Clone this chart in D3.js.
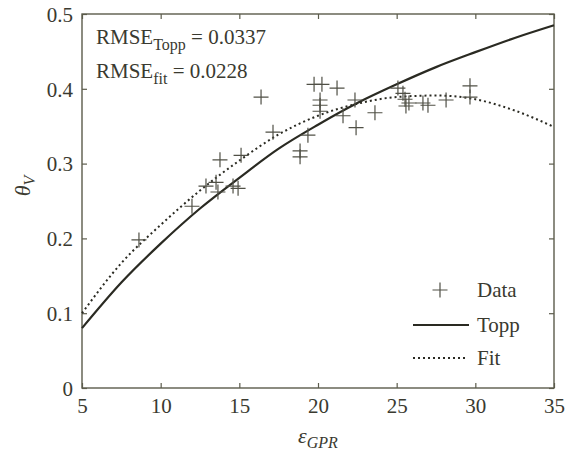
<!DOCTYPE html>
<html>
<head>
<meta charset="utf-8">
<script src="https://cdn.jsdelivr.net/npm/d3@7"></script>
<style>
  html, body { margin: 0; padding: 0; background: #fff; }
  svg { display: block; }
  text { font-family: "Liberation Serif", "DejaVu Serif", serif; fill: #3a3a30; }
</style>
</head>
<body>
<svg id="chart" width="566" height="451"></svg>
<script>
// Measured points: permittivity from GPR vs volumetric water content
const dataEps = [8.62, 11.99, 12.88, 13.52, 13.64, 13.77, 14.60, 14.92, 15.11, 16.38,
                 17.14, 18.86, 18.86, 19.36, 19.75, 20.25, 21.21, 20.13, 20.13, 20.13,
                 21.59, 22.35, 22.42, 23.62, 25.08, 25.40, 25.53, 25.78, 25.59, 26.67,
                 26.99, 28.14, 29.66, 29.66];
const dataTheta = [0.198, 0.243, 0.270, 0.275, 0.262, 0.305, 0.270, 0.267, 0.311, 0.389,
                   0.342, 0.317, 0.309, 0.338, 0.406, 0.406, 0.401, 0.385, 0.378, 0.370,
                   0.364, 0.385, 0.348, 0.368, 0.401, 0.394, 0.386, 0.381, 0.377, 0.381,
                   0.378, 0.385, 0.404, 0.389];

// Curves sampled along epsilon
const curveEps   = [5, 7.5, 10, 12.5, 15, 17.5, 20, 22.5, 25, 27.5, 30, 32.5, 35];
const toppTheta  = [0.080, 0.141, 0.193, 0.240, 0.281, 0.320, 0.352, 0.381, 0.406, 0.429, 0.449, 0.468, 0.485];
const fitTheta   = [0.100, 0.167, 0.218, 0.264, 0.304, 0.339, 0.364, 0.380, 0.389, 0.391, 0.386, 0.371, 0.349];

// Axis ticks
const xTicks = [5, 10, 15, 20, 25, 30, 35];
const yTicks = [0, 0.1, 0.2, 0.3, 0.4, 0.5];
const yTickLabels = ["0", "0.1", "0.2", "0.3", "0.4", "0.5"];

// RMSE annotations
const rmseNames  = ["Topp", "fit"];
const rmseValues = ["0.0337", "0.0228"];

// Legend entries
const legendLabels = ["Data", "Topp", "Fit"];

const frameColor = "#5c5c4c";
const lineColor = "#2a2a22";
const crossColor = "#505046";
const fontSize = "21px";

const svg = d3.select("#chart");
const m = { left: 82, top: 14 };
const W = 472, H = 374;

const x = d3.scaleLinear().domain([5, 35]).range([0, W]);
const y = d3.scaleLinear().domain([0, 0.5]).range([H, 0]);

const g = svg.append("g").attr("transform", `translate(${m.left},${m.top})`);

// Inward ticks on all four sides
function styleAxis(sel) {
  sel.select(".domain").remove();
  sel.selectAll(".tick line").attr("stroke", frameColor).attr("stroke-width", 1.2);
}

const xAxisB = d3.axisBottom(x).tickValues(xTicks).tickSizeInner(-5).tickSizeOuter(0).tickFormat(d3.format("d"));
const gxb = g.append("g").attr("transform", `translate(0,${H})`).call(xAxisB);
styleAxis(gxb);
gxb.selectAll(".tick text")
  .attr("y", 25).attr("dy", 0)
  .style("font-size", fontSize).style("font-family", "Liberation Serif, serif")
  .attr("fill", "#3a3a30");

const gxt = g.append("g").call(d3.axisTop(x).tickValues(xTicks).tickSizeInner(-5).tickSizeOuter(0).tickFormat(""));
styleAxis(gxt);

const yAxisL = d3.axisLeft(y).tickValues(yTicks).tickSizeInner(-5).tickSizeOuter(0)
  .tickFormat((d, i) => yTickLabels[i]);
const gyl = g.append("g").call(yAxisL);
styleAxis(gyl);
gyl.selectAll(".tick text")
  .attr("x", -9).attr("dy", "0.35em")
  .style("font-size", fontSize).style("font-family", "Liberation Serif, serif")
  .attr("fill", "#3a3a30");

const gyr = g.append("g").attr("transform", `translate(${W},0)`)
  .call(d3.axisRight(y).tickValues(yTicks).tickSizeInner(-5).tickSizeOuter(0).tickFormat(""));
styleAxis(gyr);

// Frame
g.append("rect").attr("x", 0).attr("y", 0).attr("width", W).attr("height", H)
  .attr("fill", "none").attr("stroke", frameColor).attr("stroke-width", 1.4);

// Curves
const line = d3.line().x(d => x(d[0])).y(d => y(d[1])).curve(d3.curveMonotoneX);

g.append("path")
  .datum(curveEps.map((e, i) => [e, fitTheta[i]]))
  .attr("d", line).attr("fill", "none")
  .attr("stroke", lineColor).attr("stroke-width", 2)
  .attr("stroke-dasharray", "2,3");

g.append("path")
  .datum(curveEps.map((e, i) => [e, toppTheta[i]]))
  .attr("d", line).attr("fill", "none")
  .attr("stroke", lineColor).attr("stroke-width", 2.2);

// Data crosses
const armLen = 7.5;
function plus(sel, cx, cy) {
  sel.append("path")
    .attr("d", `M${cx - armLen},${cy}H${cx + armLen}M${cx},${cy - armLen}V${cy + armLen}`)
    .attr("stroke", crossColor).attr("stroke-width", 1.2).attr("fill", "none");
}
const pts = g.append("g");
dataEps.forEach((e, i) => plus(pts, x(e), y(dataTheta[i])));

// RMSE annotations
rmseNames.forEach((name, i) => {
  const t = g.append("text")
    .attr("x", 14).attr("y", 30 + i * 34)
    .style("font-size", fontSize);
  t.append("tspan").text("RMSE");
  t.append("tspan").text(name).style("font-size", "16px").attr("dy", 6);
  t.append("tspan").text(` = ${rmseValues[i]}`).attr("dy", -6);
});

// Legend
const lg = g.append("g");
const legX = 331, legTextX = 395;
const legY = [276, 311, 344];
plus(lg, legX + 27, legY[0]);
lg.append("line").attr("x1", legX).attr("x2", legX + 56).attr("y1", legY[1]).attr("y2", legY[1])
  .attr("stroke", lineColor).attr("stroke-width", 2.2);
lg.append("line").attr("x1", legX).attr("x2", legX + 54).attr("y1", legY[2]).attr("y2", legY[2])
  .attr("stroke", lineColor).attr("stroke-width", 2).attr("stroke-dasharray", "2,3");
legendLabels.forEach((lab, i) => {
  lg.append("text").attr("x", legTextX).attr("y", legY[i]).attr("dy", "0.35em")
    .style("font-size", fontSize).text(lab);
});

// Axis titles
const xl = svg.append("text")
  .attr("x", m.left + x(20)).attr("y", 443)
  .attr("text-anchor", "middle").style("font-size", "22px");
xl.append("tspan").text("ε").style("font-style", "italic");
xl.append("tspan").text("GPR").style("font-size", "16px").style("font-style", "italic").attr("dy", 5);

const yl = svg.append("text")
  .attr("transform", `translate(30,${m.top + y(0.27)}) rotate(-90)`)
  .attr("text-anchor", "middle").style("font-size", "22px");
yl.append("tspan").text("θ").style("font-style", "italic");
yl.append("tspan").text("V").style("font-size", "16px").style("font-style", "italic").attr("dy", 5);
</script>
</body>
</html>
